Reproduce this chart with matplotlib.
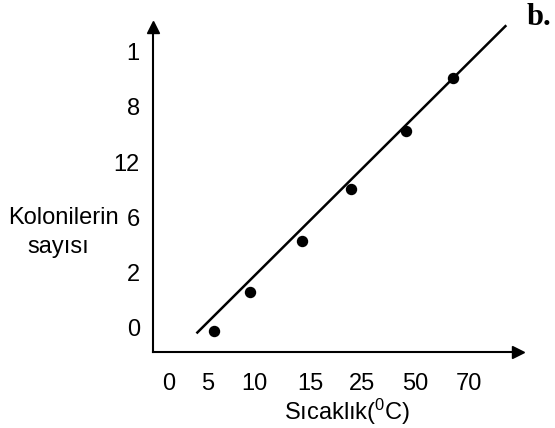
import matplotlib
matplotlib.use("Agg")
import matplotlib.pyplot as plt

plt.rcParams['font.family'] = ['Liberation Sans', 'DejaVu Sans']
plt.rcParams['mathtext.fontset'] = 'custom'
plt.rcParams['mathtext.rm'] = 'Liberation Sans'
plt.rcParams['mathtext.it'] = 'Liberation Sans'

# data (x in tick-slot units, y in label-slot units, as drawn on the sketch)
temps = ['0', '5', '10', '15', '25', '50', '70']
counts = ['0', '2', '6', '12', '8', '1']   # bottom to top
pts_x = [1.06, 1.77, 2.79, 3.75, 4.84, 5.76]
pts_y = [-0.07, 0.64, 1.56, 2.51, 3.56, 4.53]
fit_x = [0.73, 6.80]
fit_y = [-0.10, 5.47]

W, H = 555, 428
fig = plt.figure(figsize=(W / 100, H / 100), dpi=100)
ax = fig.add_axes([153 / W, (H - 351.7) / H, (518 - 153) / W, (351.7 - 27) / H])
ax.set_xlim(-0.144, 7.048)
ax.set_ylim(-0.449, 5.4545)

fs = 17
ax.plot(fit_x, fit_y, color='black', lw=1.8, clip_on=False)
ax.plot(pts_x, pts_y, 'o', color='black', ms=7.2, clip_on=False)

for s in ['top', 'right']:
    ax.spines[s].set_visible(False)
for s in ['left', 'bottom']:
    ax.spines[s].set_linewidth(1.5)

# arrow heads
ax.plot(1, 0, '>', color='black', ms=8, transform=ax.transAxes, clip_on=False)
ax.plot(0, 1, '^', color='black', ms=8, transform=ax.transAxes, clip_on=False)

xpos = [0.17, 0.93, 1.86, 2.95, 3.97, 5.02, 6.08]
ax.set_xticks(xpos, temps)
ax.set_yticks(range(len(counts)), counts)
ax.tick_params(axis='x', length=0, pad=15, labelsize=fs)
ax.tick_params(axis='y', length=0, pad=9.5, labelsize=fs)

fig.text(63 / W, 1 - 218 / H, 'Kolonilerin', ha='center', va='center', fontsize=fs)
fig.text(58 / W, 1 - 247 / H, 'sayısı', ha='center', va='center', fontsize=fs)
fig.text(347 / W, 1 - 412 / H, r'Sıcaklık($^0$C)', ha='center', va='center', fontsize=fs)
fig.text(527 / W, 1 - 25 / H, 'b.', ha='left', va='baseline', fontsize=22,
         family='Liberation Serif', fontweight='bold')

fig.savefig('out.png', dpi=100)
